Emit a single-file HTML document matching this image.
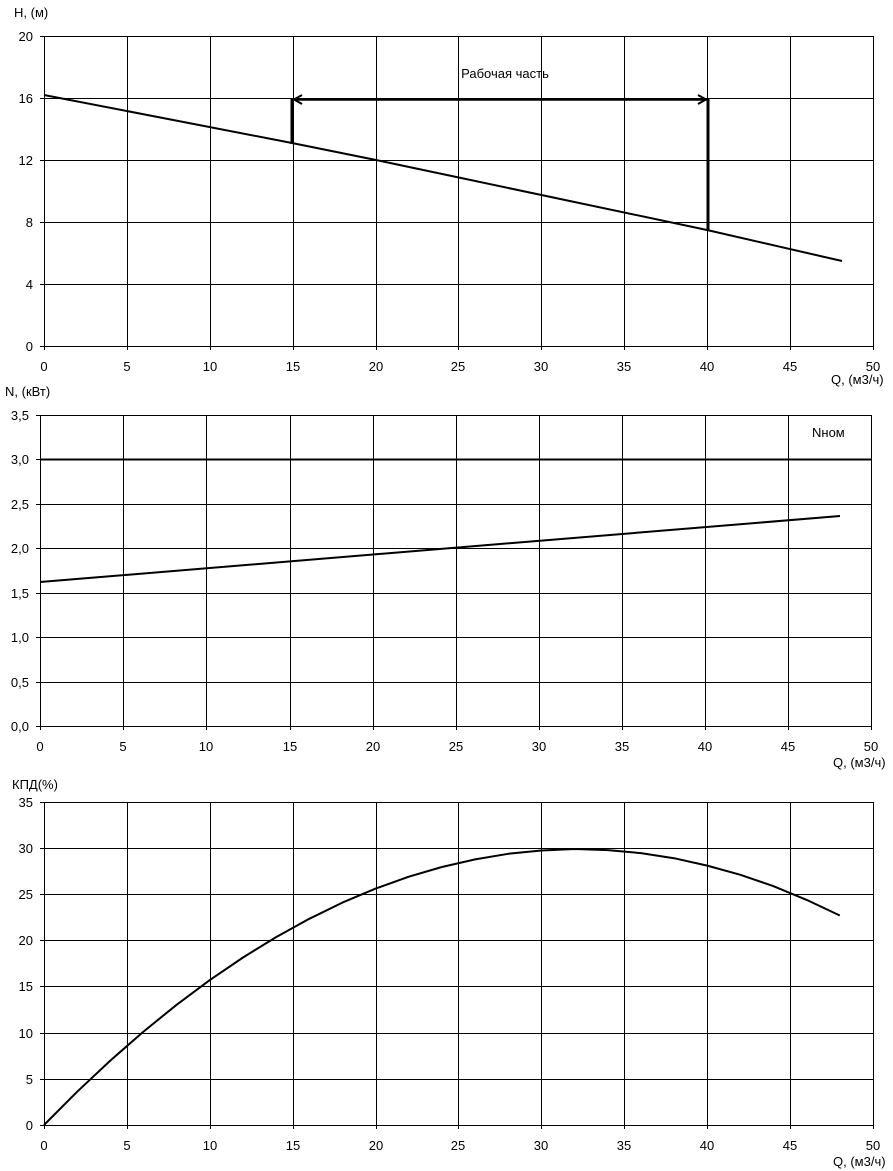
<!DOCTYPE html>
<html><head><meta charset="utf-8"><style>html,body{margin:0;padding:0;background:#fff}svg{display:block}text{font-family:"Liberation Sans",Arial,sans-serif;font-size:13px;fill:#000}</style></head><body>
<svg width="893" height="1171" xmlns="http://www.w3.org/2000/svg">
<g stroke="#000" stroke-width="1" fill="none" shape-rendering="crispEdges">
<path d="M44.5 36.5H873.5V346.5H44.5Z M44.5 98.5H873.5 M44.5 160.5H873.5 M44.5 222.5H873.5 M44.5 284.5H873.5 M127.5 36V346 M210.5 36V346 M293.5 36V346 M376.5 36V346 M458.5 36V346 M541.5 36V346 M624.5 36V346 M707.5 36V346 M790.5 36V346 M40 36.5H44 M40 98.5H44 M40 160.5H44 M40 222.5H44 M40 284.5H44 M40 346.5H44 M44.5 346V350 M127.5 346V350 M210.5 346V350 M293.5 346V350 M376.5 346V350 M458.5 346V350 M541.5 346V350 M624.5 346V350 M707.5 346V350 M790.5 346V350 M873.5 346V350"/>
<path d="M40.5 415.5H871.5V726.5H40.5Z M40.5 459.5H871.5 M40.5 504.5H871.5 M40.5 548.5H871.5 M40.5 593.5H871.5 M40.5 637.5H871.5 M40.5 682.5H871.5 M123.5 415V726 M206.5 415V726 M290.5 415V726 M373.5 415V726 M456.5 415V726 M539.5 415V726 M622.5 415V726 M705.5 415V726 M788.5 415V726 M36 415.5H40 M36 459.5H40 M36 504.5H40 M36 548.5H40 M36 593.5H40 M36 637.5H40 M36 682.5H40 M36 726.5H40 M40.5 726V730 M123.5 726V730 M206.5 726V730 M290.5 726V730 M373.5 726V730 M456.5 726V730 M539.5 726V730 M622.5 726V730 M705.5 726V730 M788.5 726V730 M871.5 726V730"/>
<path d="M44.5 802.5H873.5V1125.5H44.5Z M44.5 848.5H873.5 M44.5 894.5H873.5 M44.5 940.5H873.5 M44.5 986.5H873.5 M44.5 1033.5H873.5 M44.5 1079.5H873.5 M127.5 802V1125 M210.5 802V1125 M293.5 802V1125 M376.5 802V1125 M458.5 802V1125 M541.5 802V1125 M624.5 802V1125 M707.5 802V1125 M790.5 802V1125 M40 802.5H44 M40 848.5H44 M40 894.5H44 M40 940.5H44 M40 986.5H44 M40 1033.5H44 M40 1079.5H44 M40 1125.5H44 M44.5 1125V1129 M127.5 1125V1129 M210.5 1125V1129 M293.5 1125V1129 M376.5 1125V1129 M458.5 1125V1129 M541.5 1125V1129 M624.5 1125V1129 M707.5 1125V1129 M790.5 1125V1129 M873.5 1125V1129"/>
</g>
<g stroke="#000" fill="none" stroke-linejoin="round">
<polyline points="44,95 292,143 376,160 707,230 842,261" stroke-width="2"/>
<line x1="292" y1="98" x2="292" y2="144" stroke-width="3"/>
<line x1="708" y1="98" x2="708" y2="231" stroke-width="3"/>
<line x1="294" y1="99.5" x2="706" y2="99.5" stroke-width="2.5"/>
<path d="M302 95L294 99.5L302 104 M698 95L706 99.5L698 104" stroke-width="2"/>
<line x1="40" y1="459.5" x2="871" y2="459.5" stroke-width="2"/>
<line x1="40" y1="582" x2="840" y2="516" stroke-width="2"/>
<polyline stroke-width="2" points="44,1125 77.2,1091.7 110.3,1060.6 143.5,1031.6 176.6,1004.8 209.8,980.1 243,957.5 276.1,937.1 309.3,918.8 342.4,902.6 375.6,888.6 408.8,876.7 441.9,867 475.1,859.4 508.2,853.8 541.4,850.5 574.6,849 607.7,850.1 640.9,853.1 674,858.2 707.2,865.6 740.4,874.8 773.5,886.2 806.7,899.9 839.8,915.5"/>
</g>
<g text-anchor="end">
<text x="33" y="41">20</text><text x="33" y="103">16</text><text x="33" y="165">12</text><text x="33" y="227">8</text><text x="33" y="289">4</text><text x="33" y="351">0</text>
<text x="29" y="420">3,5</text><text x="29" y="464">3,0</text><text x="29" y="509">2,5</text><text x="29" y="553">2,0</text><text x="29" y="598">1,5</text><text x="29" y="642">1,0</text><text x="29" y="687">0,5</text><text x="29" y="731">0,0</text>
<text x="33" y="807">35</text><text x="33" y="853">30</text><text x="33" y="899">25</text><text x="33" y="945">20</text><text x="33" y="991">15</text><text x="33" y="1038">10</text><text x="33" y="1084">5</text><text x="33" y="1130">0</text>
</g>
<g text-anchor="middle">
<text x="44" y="371">0</text><text x="127" y="371">5</text><text x="210" y="371">10</text><text x="293" y="371">15</text><text x="376" y="371">20</text><text x="458" y="371">25</text><text x="541" y="371">30</text><text x="624" y="371">35</text><text x="707" y="371">40</text><text x="790" y="371">45</text><text x="873" y="371">50</text>
<text x="40" y="751">0</text><text x="123" y="751">5</text><text x="206" y="751">10</text><text x="290" y="751">15</text><text x="373" y="751">20</text><text x="456" y="751">25</text><text x="539" y="751">30</text><text x="622" y="751">35</text><text x="705" y="751">40</text><text x="788" y="751">45</text><text x="871" y="751">50</text>
<text x="44" y="1150">0</text><text x="127" y="1150">5</text><text x="210" y="1150">10</text><text x="293" y="1150">15</text><text x="376" y="1150">20</text><text x="458" y="1150">25</text><text x="541" y="1150">30</text><text x="624" y="1150">35</text><text x="707" y="1150">40</text><text x="790" y="1150">45</text><text x="873" y="1150">50</text>
<text x="505" y="78">Рабочая часть</text>
</g>
<text x="14" y="17">H, (м)</text>
<text x="5" y="396">N, (кВт)</text>
<text x="12" y="789">КПД(%)</text>
<text x="831" y="384">Q, (м3/ч)</text>
<text x="833" y="767">Q, (м3/ч)</text>
<text x="833" y="1166">Q, (м3/ч)</text>
<text x="812" y="437">Nном</text>
</svg>
</body></html>
